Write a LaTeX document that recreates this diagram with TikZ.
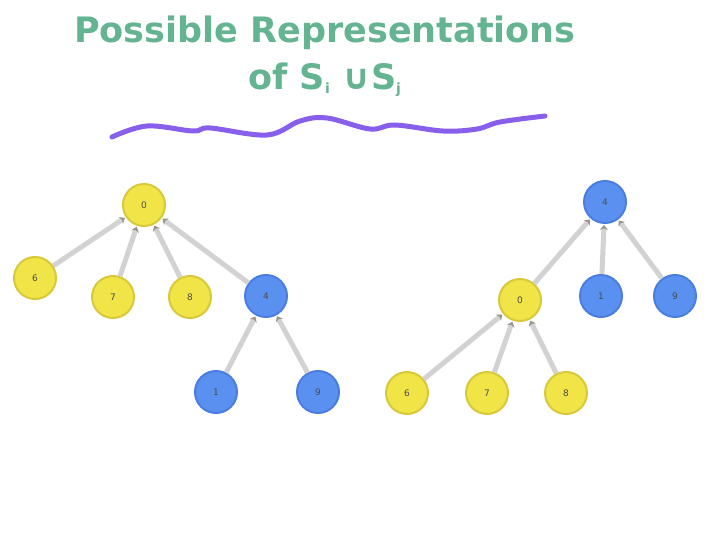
\documentclass[tikz,border=0pt]{standalone}
\usepackage{fontspec}
\setmainfont{DejaVu Sans}
\usetikzlibrary{arrows.meta}
\definecolor{ttl}{RGB}{100,180,145}
\definecolor{squig}{RGB}{135,95,235}
\definecolor{ylw}{RGB}{240,228,70}
\definecolor{ylwb}{RGB}{215,200,60}
\definecolor{blu}{RGB}{90,145,240}
\definecolor{blub}{RGB}{75,125,225}
\definecolor{edg}{RGB}{210,210,210}
\definecolor{arr}{RGB}{150,150,140}
\begin{document}
\begin{tikzpicture}[x=1pt,y=-1pt,
  ynode/.style={circle,fill=ylw,draw=ylwb,line width=2pt,minimum size=42pt,inner sep=0pt,font=\fontsize{9}{9}\selectfont,text=black!70},
  bnode/.style={circle,fill=blu,draw=blub,line width=2pt,minimum size=42pt,inner sep=0pt,font=\fontsize{9}{9}\selectfont,text=black!70},
  edge/.style={draw=edg,line width=5pt,-{Stealth[length=5pt,width=8pt,color=arr]}, shorten >=1pt},
  title/.style={text=ttl,font=\bfseries\fontsize{35}{40}\selectfont}]
\useasboundingbox (0,0) rectangle (720,540);
\node[title] (t1) at (325,33) {Possible Representations};
\node[title] (t2) at (325,80) {of S\textsubscript{\fontsize{14}{14}\selectfont i} ∪S\textsubscript{\fontsize{14}{14}\selectfont j}};
\draw[squig,line width=5pt,line cap=round] plot[smooth,tension=0.6] coordinates {(112,137) (147,126) (193,131) (210,128) (267,135) (300,121) (327,118) (370,129) (395,125) (443,131) (477,129) (500,122) (545,116)};
% left tree
\node[ynode] (l0) at (144,205) {0};
\node[ynode] (l6) at (35,278) {6};
\node[ynode] (l7) at (113,297) {7};
\node[ynode] (l8) at (190,297) {8};
\node[bnode] (l4) at (266,296) {4};
\node[bnode] (l1) at (216,392) {1};
\node[bnode] (l9) at (318,392) {9};
% right tree
\node[bnode] (r4) at (605,202) {4};
\node[ynode] (r0) at (520,300) {0};
\node[bnode] (r1) at (601,296) {1};
\node[bnode] (r9) at (675,296) {9};
\node[ynode] (r6) at (407,393) {6};
\node[ynode] (r7) at (487,393) {7};
\node[ynode] (r8) at (566,393) {8};
\foreach \c/\p in {l6/l0,l7/l0,l8/l0,l4/l0,l1/l4,l9/l4,r0/r4,r1/r4,r9/r4,r6/r0,r7/r0,r8/r0}
  \path[edge] (\c) -- (\p);
\end{tikzpicture}
\end{document}
